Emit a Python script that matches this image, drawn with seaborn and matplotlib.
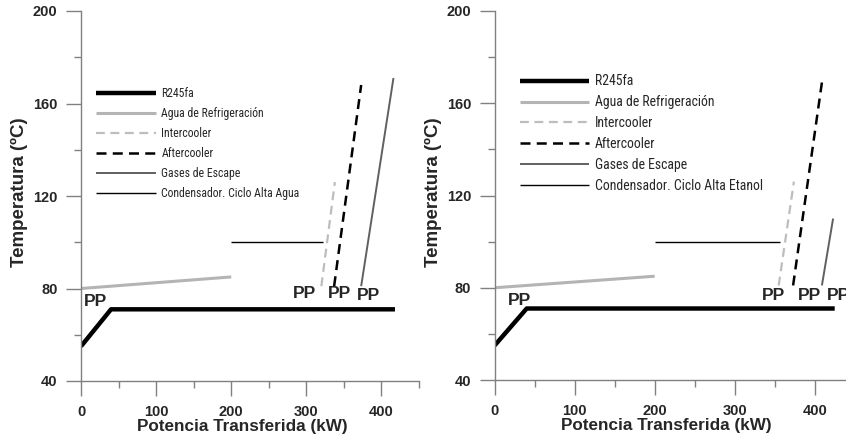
import matplotlib
matplotlib.use("Agg")
import matplotlib.pyplot as plt
from matplotlib import font_manager
from matplotlib.ticker import MultipleLocator
import seaborn as sns
import pandas as pd

# ---- data (kW, ºC) ----
# left panel: Ciclo Alta Agua
a_r245_x = [0, 40, 418]
a_r245_y = [55, 71, 71]
a_agua_x = [0, 200]
a_agua_y = [80, 85]
a_inter_x = [320, 338]
a_inter_y = [81, 126]
a_after_x = [337, 373]
a_after_y = [81, 168]
a_gases_x = [373, 416]
a_gases_y = [81, 171]
a_cond_x = [200, 322]
a_cond_y = [100, 100]
a_pp_x = [19, 298, 344, 383]
a_pp_y = [74.5, 78, 78, 77]

# right panel: Ciclo Alta Etanol
b_r245_x = [0, 40, 425]
b_r245_y = [55, 71, 71]
b_agua_x = [0, 200]
b_agua_y = [80, 85]
b_inter_x = [355, 374]
b_inter_y = [81, 126]
b_after_x = [373, 409]
b_after_y = [81, 169]
b_gases_x = [409, 423]
b_gases_y = [81, 110]
b_cond_x = [200, 357]
b_cond_y = [100, 100]
b_pp_x = [31, 348, 394, 430]
b_pp_y = [74.5, 76.5, 76.5, 76.5]

series_names = ["R245fa", "Agua de Refrigeración", "Intercooler",
                "Aftercooler", "Gases de Escape"]

styles = [
    dict(color="black", lw=3.2, ls="-"),
    dict(color="#b4b4b4", lw=2.2, ls="-"),
    dict(color="#bdbdbd", lw=1.6, ls=(0, (4, 2.5))),
    dict(color="black", lw=1.8, ls=(0, (4, 2.5))),
    dict(color="#606060", lw=1.4, ls="-"),
    dict(color="black", lw=1.0, ls="-"),
]

sns.set_style("ticks")
plt.rcParams["font.family"] = ["Liberation Sans", "DejaVu Sans"]

# the legend in the reference uses a narrow face; use one if it is installed
installed = {f.name for f in font_manager.fontManager.ttflist}
narrow = None
for cand in ["Liberation Sans Narrow", "Arial Narrow", "Roboto Condensed",
             "DejaVu Sans Condensed", "Open Sans Condensed"]:
    if cand in installed:
        narrow = cand
        break
if narrow:
    leg_family = [narrow, "DejaVu Sans"]
    leg_scale = 1.0
else:
    leg_family = ["Liberation Sans", "DejaVu Sans"]
    leg_scale = 0.89

fig = plt.figure(figsize=(8.46, 4.41), dpi=100)
W, H = 846, 441


def draw_panel(ax, xs, ys, labels, pp_x, pp_y, leg_anchor, leg_size, handle_px, spacing):
    for x, y, lab, st in zip(xs, ys, labels, styles):
        df = pd.DataFrame({"x": x, "y": y})
        sns.lineplot(data=df, x="x", y="y", ax=ax, sort=False, label=lab,
                     color=st["color"], linewidth=st["lw"], linestyle=st["ls"],
                     solid_capstyle="butt", dash_capstyle="butt")
    for px, py in zip(pp_x, pp_y):
        ax.text(px, py, "PP", ha="center", va="center", fontsize=12.5,
                fontweight="bold", clip_on=False)

    ax.set_xlim(0, 450)
    ax.set_ylim(40, 200)
    ax.xaxis.set_major_locator(MultipleLocator(100))
    ax.xaxis.set_minor_locator(MultipleLocator(50))
    ax.yaxis.set_major_locator(MultipleLocator(40))
    ax.yaxis.set_minor_locator(MultipleLocator(20))
    ax.tick_params(which="major", length=11, width=1, color="#808080",
                   labelsize=10.5, pad=6)
    ax.tick_params(which="minor", length=5, width=1, color="#808080")
    for lab in ax.get_xticklabels() + ax.get_yticklabels():
        lab.set_fontweight("bold")
    for side in ("top", "right"):
        ax.spines[side].set_visible(False)
    for side in ("left", "bottom"):
        ax.spines[side].set_color("#808080")
        ax.spines[side].set_linewidth(1)

    ax.set_xlabel("Potencia Transferida (kW)", fontsize=12.3, fontweight="bold",
                  labelpad=0, x=0.478)
    ax.set_ylabel("Temperatura (ºC)", fontsize=13.5, fontweight="bold",
                  labelpad=3.5, y=0.51)

    size = leg_size * leg_scale
    size_px = size * 100 / 72
    leg = ax.legend(loc="upper left", bbox_to_anchor=leg_anchor, frameon=False,
                    handlelength=handle_px / size_px, handletextpad=5.5 / size_px,
                    labelspacing=spacing, borderpad=0, borderaxespad=0,
                    prop={"family": leg_family, "size": size})
    return leg


ax1 = fig.add_axes([81 / W, (H - 381) / H, 338 / W, 370 / H])
draw_panel(ax1,
           [a_r245_x, a_agua_x, a_inter_x, a_after_x, a_gases_x, a_cond_x],
           [a_r245_y, a_agua_y, a_inter_y, a_after_y, a_gases_y, a_cond_y],
           series_names + ["Condensador. Ciclo Alta Agua"],
           a_pp_x, a_pp_y, (0.044, 0.795), 8.5, 60, 0.6)

ax2 = fig.add_axes([494.7 / W, (H - 380) / H, 360 / W, 369 / H])
draw_panel(ax2,
           [b_r245_x, b_agua_x, b_inter_x, b_after_x, b_gases_x, b_cond_x],
           [b_r245_y, b_agua_y, b_inter_y, b_after_y, b_gases_y, b_cond_y],
           series_names + ["Condensador. Ciclo Alta Etanol"],
           b_pp_x, b_pp_y, (0.071, 0.828), 9.9, 69, 0.5)

fig.savefig("out.png", dpi=100)
